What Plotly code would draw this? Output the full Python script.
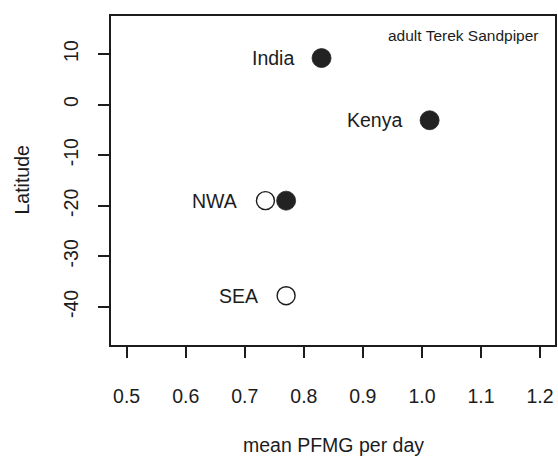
import plotly.graph_objects as go

# Mean PFMG per day vs latitude for adult Terek Sandpiper populations
sites_filled = ["India", "Kenya", "NWA"]
pfmg_filled = [0.83, 1.013, 0.77]
lat_filled = [9.2, -3.1, -19.0]

sites_open = ["NWA", "SEA"]
pfmg_open = [0.735, 0.77]
lat_open = [-19.0, -37.8]

# which site labels are written next to which point
label_sites = ["India", "Kenya", "NWA", "SEA"]
label_x = [0.83, 1.013, 0.735, 0.77]
label_y = [9.2, -3.1, -19.0, -37.8]

x_ticks = [0.5, 0.6, 0.7, 0.8, 0.9, 1.0, 1.1, 1.2]
x_tick_text = ["0.5", "0.6", "0.7", "0.8", "0.9", "1.0", "1.1", "1.2"]
y_ticks = [10, 0, -10, -20, -30, -40]

FONT = "Liberation Sans, Arial, sans-serif"
INK = "#1c1c1c"

fig = go.Figure()

fig.add_trace(go.Scatter(
    x=pfmg_open, y=lat_open, mode="markers", text=sites_open,
    marker=dict(symbol="circle", size=18, color="white",
                line=dict(color=INK, width=1.4)),
    showlegend=False, hoverinfo="text+x+y",
))
fig.add_trace(go.Scatter(
    x=pfmg_filled, y=lat_filled, mode="markers", text=sites_filled,
    marker=dict(symbol="circle", size=19, color="#222222",
                line=dict(color="#222222", width=0.8)),
    showlegend=False, hoverinfo="text+x+y",
))

for name, lx, ly in zip(label_sites, label_x, label_y):
    fig.add_annotation(
        x=lx, y=ly, xref="x", yref="y", text=name, showarrow=False,
        xanchor="right", yanchor="middle", xshift=-26,
        font=dict(family=FONT, size=19.5, color=INK),
    )

# species tag in the upper right corner
fig.add_annotation(
    x=1, y=1, xref="paper", yref="paper", text="adult Terek Sandpiper",
    showarrow=False, xanchor="center", yanchor="middle",
    xshift=-91.5, yshift=-19,
    font=dict(family="Liberation Sans Narrow, Arial Narrow, " + FONT,
              size=15.5, color=INK),
)

# axis titles
fig.add_annotation(
    x=0.5, y=0, xref="paper", yref="paper", text="mean PFMG per day",
    showarrow=False, xanchor="center", yanchor="middle", yshift=-100,
    font=dict(family=FONT, size=19.5, color=INK),
)
fig.add_annotation(
    x=0, y=0.5, xref="paper", yref="paper", text="Latitude",
    showarrow=False, xanchor="center", yanchor="middle", xshift=-90,
    textangle=-90,
    font=dict(family=FONT, size=19.5, color=INK),
)

axis_common = dict(
    showline=True, mirror=True, linecolor=INK, linewidth=1.6,
    ticks="outside", ticklen=11, tickwidth=1.6, tickcolor=INK,
    showgrid=False, zeroline=False,
    tickfont=dict(family=FONT, size=19.5, color=INK),
)

fig.update_xaxes(
    range=[0.4735, 1.2253], tickmode="array",
    tickvals=x_ticks, ticktext=x_tick_text,
    ticklabelstandoff=22, **axis_common,
)
fig.update_yaxes(
    range=[-47.55, 17.52], tickmode="array",
    tickvals=y_ticks, ticktext=[str(v) for v in y_ticks],
    tickangle=-90, ticklabelstandoff=12, **axis_common,
)

fig.update_layout(
    width=558, height=456,
    margin=dict(l=111, r=1, t=16, b=111),
    paper_bgcolor="white", plot_bgcolor="white",
    font=dict(family=FONT, color=INK),
)

fig.write_html("out.html")
